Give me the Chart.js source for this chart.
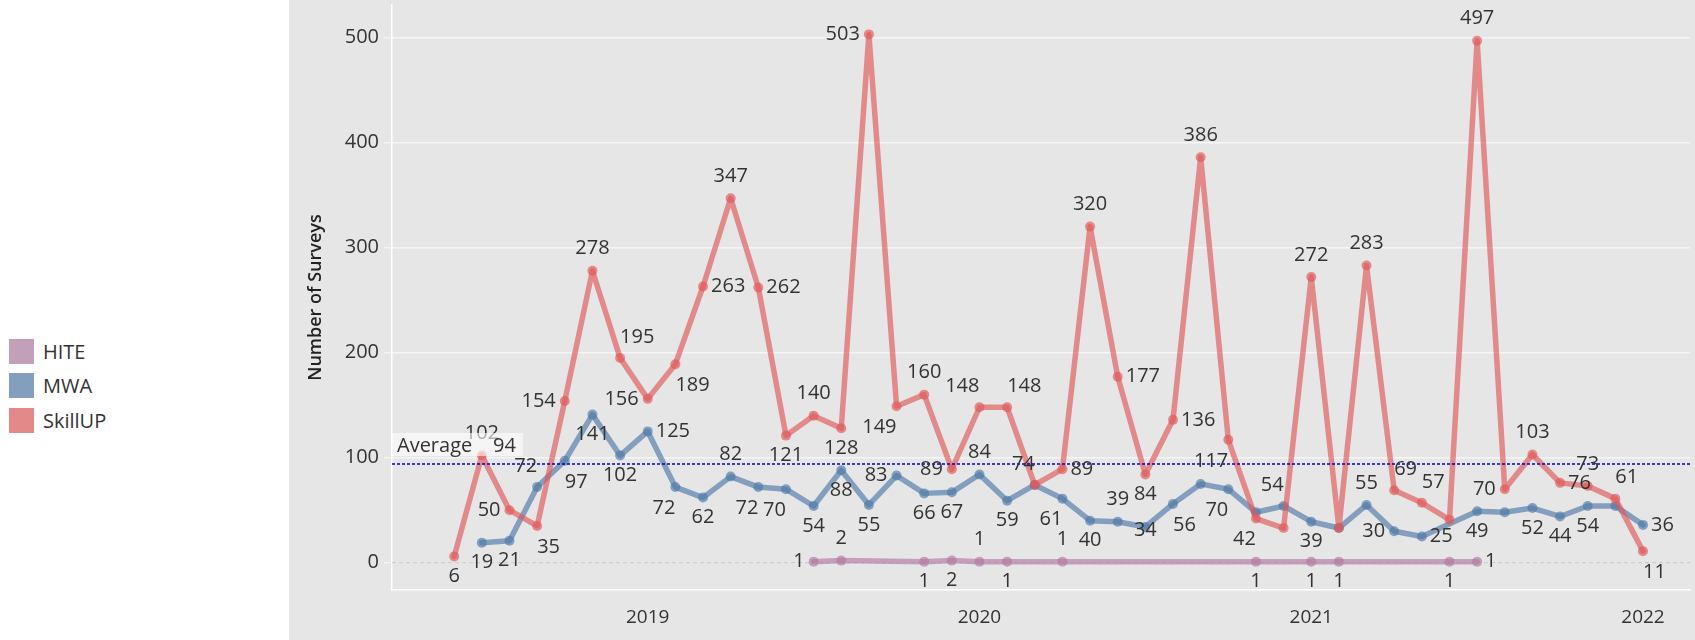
<!DOCTYPE html>
<html>
<head>
<meta charset="utf-8">
<script src="https://cdn.jsdelivr.net/npm/chart.js@4.4.1/dist/chart.umd.min.js"></script>
<style>
  body { margin: 0; width: 1695px; height: 640px; overflow: hidden; background: #fff; font-family: "Open Sans", sans-serif; }
  #legend { position: absolute; left: 9px; top: 334px; }
  .item { display: flex; align-items: center; height: 34.5px; font-size: 20px; color: #333; }
  .sw { width: 25px; height: 25px; margin-right: 9px; }
  #plot { position: absolute; left: 289px; top: 0; width: 1406px; height: 640px; background: #e6e6e6; }
</style>
</head>
<body>
<div id="legend"></div>
<div id="plot"><canvas id="chart" width="1406" height="640"></canvas></div>
<script>
// months Jun 2018 .. Jan 2022
const months = [
  "Jun 2018", "Jul 2018", "Aug 2018", "Sep 2018", "Oct 2018", "Nov 2018", "Dec 2018",
  "Jan 2019", "Feb 2019", "Mar 2019", "Apr 2019", "May 2019", "Jun 2019", "Jul 2019",
  "Aug 2019", "Sep 2019", "Oct 2019", "Nov 2019", "Dec 2019",
  "Jan 2020", "Feb 2020", "Mar 2020", "Apr 2020", "May 2020", "Jun 2020", "Jul 2020",
  "Aug 2020", "Sep 2020", "Oct 2020", "Nov 2020", "Dec 2020",
  "Jan 2021", "Feb 2021", "Mar 2021", "Apr 2021", "May 2021", "Jun 2021", "Jul 2021",
  "Aug 2021", "Sep 2021", "Oct 2021", "Nov 2021", "Dec 2021",
  "Jan 2022"
];
const yearLabels = ["2019", "2020", "2021", "2022"];
const yTicks = [0, 100, 200, 300, 400, 500];

const hite = [
  null, null, null, null, null, null, null, null, null, null, null, null, null, 1,
  2, null, null, 1, 2, 1, 1, null, 1, null, null, null, null, null, null, 1,
  null, 1, 1, null, null, null, 1, 1, null, null, null, null, null, null
];
const mwa = [
  null, 19, 21, 72, 97, 141, 102, 125, 72, 62, 82, 72, 70, 54,
  88, 55, 83, 66, 67, 84, 59, 74, 61, 40, 39, 34, 56, 75, 70, 48,
  54, 39, 33, 55, 30, 25, null, 49, 48, 52, 44, 54, 54, 36
];
const skillup = [
  6, 102, 50, 35, 154, 278, 195, 156, 189, 263, 347, 262, 121, 140,
  128, 503, 149, 160, 89, 148, 148, 74, 89, 320, 177, 84, 136, 386, 117, 42,
  33, 272, 33, 283, 69, 57, 41, 497, 70, 103, 76, 73, 61, 11
];
const averageValue = 94;

// where each value label sits relative to its mark ('' = hidden)
const hitePos = [
  '', '', '', '', '', '', '', '', '', '', '', '', '', 'l',
  't', '', '', 'b', 'b', 't', 'b', '', 't', '', '', '', '', '', '', 'b',
  '', 'b', 'b', '', '', '', 'b', 'r', '', '', '', '', '', ''
];
const mwaPos = [
  '', 'b', 'b', 'tl', 'br', 'b', 'b', 'r', 'bl', 'b', 't', 'bl', 'bl', 'b',
  'b', 'b', 'l', 'b', 'b', 't', 'b', '', 'bl', 'b', 't', 'c', 'br', '', 'bl', '',
  'tl', 'b', '', 't', 'l', 'r', '', 'b', '', 'b', 'b', 'b', '', 'r'
];
const skillupPos = [
  'b', 't', 'l', 'br', 'l', 't', 'tr', 'l', 'br', 'r', 't', 'r', 'b', 't',
  'b', 'l', 'bl', 't', 'l', 'tl', 'tr', 'tl', 'r', 't', 'r', 'b', 'r', 't', 'bl', 'bl',
  '', 't', '', 't', 'tr', 'tr', '', 't', 'l', 't', 'r', 't', 'tr', 'br'
];

const series = [
  { label: "HITE", data: hite, pos: hitePos, color: "rgba(176,122,161,0.65)", swatch: "#c3a0b9", order: 3 },
  { label: "MWA", data: mwa, pos: mwaPos, color: "rgba(78,121,167,0.65)", swatch: "#839fbd", order: 2 },
  { label: "SkillUP", data: skillup, pos: skillupPos, color: "rgba(225,87,89,0.65)", swatch: "#e3898a", order: 1 }
];

const legend = document.getElementById("legend");
series.forEach(s => {
  legend.innerHTML += '<div class="item"><div class="sw" style="background:' + s.swatch + '"></div>' + s.label + '</div>';
});

const FONT = '"Open Sans", sans-serif';
Chart.defaults.font.family = FONT;
Chart.defaults.color = "#333";

const yearIdx = yearLabels.map(y => months.indexOf("Jan " + y));

const overlay = {
  id: "overlay",
  beforeDatasetsDraw(chart) {
    const { ctx, chartArea: a, scales: { y } } = chart;
    const y0 = y.getPixelForValue(0);
    ctx.save();
    ctx.strokeStyle = "#c8c8c8";
    ctx.lineWidth = 1;
    ctx.setLineDash([4, 3]);
    ctx.beginPath();
    ctx.moveTo(a.left, y0);
    ctx.lineTo(a.right, y0);
    ctx.stroke();
    ctx.restore();
  },
  afterDatasetsDraw(chart) {
    const { ctx, chartArea: a, scales: { y } } = chart;
    const ya = y.getPixelForValue(averageValue);
    ctx.save();
    ctx.strokeStyle = "#0000c8";
    ctx.lineWidth = 1.5;
    ctx.setLineDash([3, 2]);
    ctx.beginPath();
    ctx.moveTo(a.left, ya);
    ctx.lineTo(a.right, ya);
    ctx.stroke();
    ctx.setLineDash([]);

    // value labels
    ctx.font = "20px " + FONT;
    ctx.fillStyle = "#333";
    ctx.textBaseline = "middle";
    series.forEach((s, di) => {
      const meta = chart.getDatasetMeta(di);
      meta.data.forEach((pt, i) => {
        const v = s.data[i];
        const p = s.pos[i];
        if (v == null || !p) return;
        let x = pt.x, yy = pt.y, align = "center";
        if (p === "t") yy -= 22;
        else if (p === "b") yy += 20;
        else if (p === "c") yy += 3;
        else if (p === "l") { x -= 9; align = "right"; }
        else if (p === "r") { x += 8; align = "left"; }
        else if (p === "tl") { yy -= 21; align = "right"; }
        else if (p === "tr") { yy -= 21; align = "left"; }
        else if (p === "bl") { yy += 21; align = "right"; }
        else if (p === "br") { yy += 21; align = "left"; }
        ctx.textAlign = align;
        ctx.fillText(String(v), x, yy);
      });
    });

    // average label box
    ctx.fillStyle = "rgba(255,255,255,0.6)";
    ctx.fillRect(a.left, ya - 31, 131, 23);
    ctx.fillStyle = "#333";
    ctx.textAlign = "left";
    ctx.fillText("Average", a.left + 5, ya - 18);
    ctx.fillText(String(averageValue), a.left + 101, ya - 18);
    ctx.restore();
  }
};

new Chart(document.getElementById("chart"), {
  type: "line",
  data: {
    datasets: series.map(s => ({
      label: s.label,
      data: s.data.map((v, i) => ({ x: i, y: v })),
      borderColor: s.color,
      backgroundColor: s.color,
      pointBackgroundColor: s.color,
      pointBorderWidth: 0,
      pointRadius: 5,
      borderWidth: 5.5,
      borderJoinStyle: "round",
      borderCapStyle: "round",
      spanGaps: true,
      order: s.order
    }))
  },
  options: {
    responsive: false,
    animation: false,
    layout: { padding: 0 },
    plugins: { legend: { display: false }, tooltip: { enabled: false } },
    scales: {
      x: {
        type: "linear",
        min: -2.25,
        max: 44.7,
        afterBuildTicks: s => { s.ticks = yearIdx.map(v => ({ value: v })); },
        afterFit: s => { s.height = 50; s.paddingLeft = 0; s.paddingRight = 0; },
        ticks: {
          autoSkip: false,
          maxRotation: 0,
          padding: 16,
          font: { size: 19 },
          color: "#333",
          callback: v => yearLabels[yearIdx.indexOf(v)]
        },
        grid: { display: false, drawTicks: false },
        border: { display: true, color: "#ffffff", width: 1.5 }
      },
      y: {
        min: -26,
        max: 531,
        afterBuildTicks: s => { s.ticks = yTicks.map(v => ({ value: v })); },
        afterFit: s => { s.width = 103; s.paddingTop = 0; s.paddingBottom = 0; },
        ticks: { padding: 5, font: { size: 20 }, color: "#333" },
        grid: {
          color: c => (c.tick && c.tick.value === 0 ? "rgba(0,0,0,0)" : "#f5f5f5"),
          lineWidth: 1.5,
          tickLength: 8,
          tickColor: "#f5f5f5"
        },
        border: { display: true, color: "#ffffff", width: 1.5 },
        title: {
          display: true,
          text: "Number of Surveys",
          font: { size: 18, weight: "600" },
          color: "#222",
          padding: { top: 16 }
        }
      }
    }
  },
  plugins: [overlay]
});
</script>
</body>
</html>
